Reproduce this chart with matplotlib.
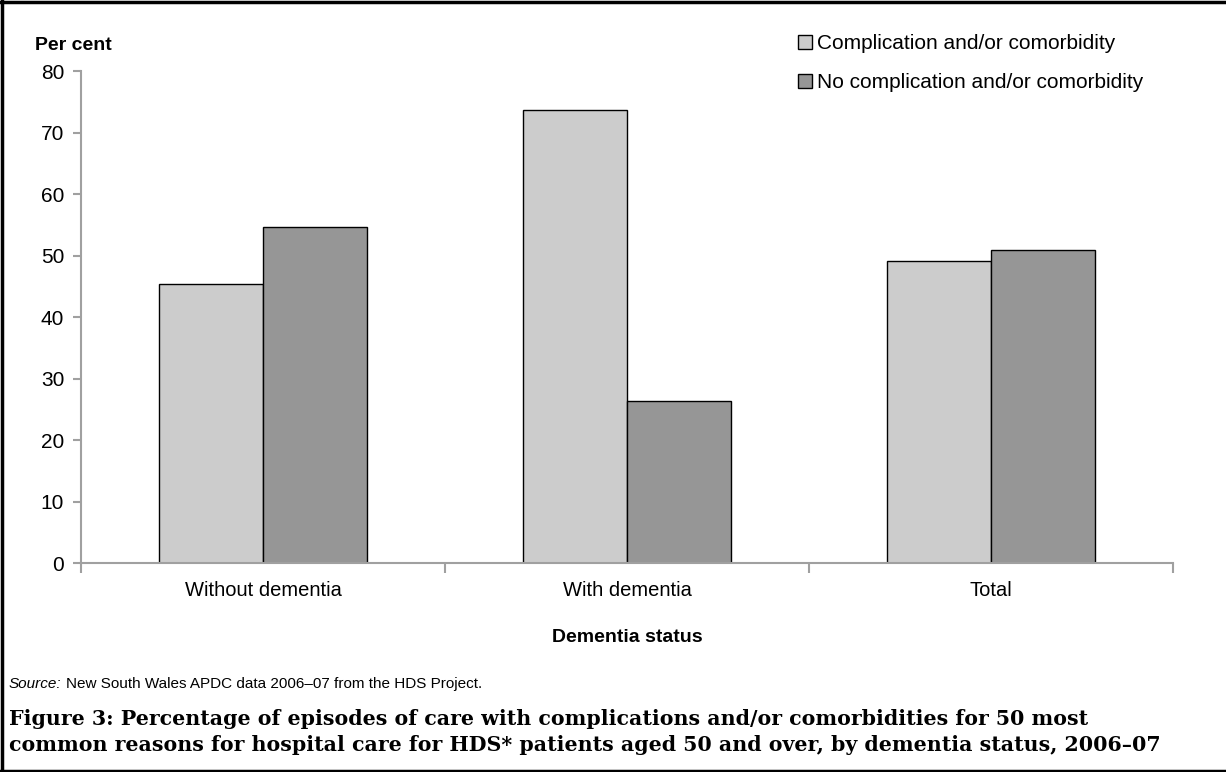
import matplotlib.pyplot as plt
import numpy as np
from matplotlib.lines import Line2D

categories = ["Without dementia", "With dementia", "Total"]
series_names = ["Complication and/or comorbidity", "No complication and/or comorbidity"]
with_cc = [45.3, 73.7, 49.1]
without_cc = [54.7, 26.3, 50.9]
yticks = [0, 10, 20, 30, 40, 50, 60, 70, 80]

plt.rcParams['font.family'] = ['Liberation Sans', 'DejaVu Sans']

fig = plt.figure(figsize=(12.26, 7.72), dpi=100)
ax = fig.add_axes([0.066, 0.2707, 0.891, 0.6373])

x = np.arange(len(categories))
w = 0.2857
ax.bar(x - w / 2, with_cc, w, color="#cccccc", edgecolor="black", linewidth=1, label=series_names[0])
ax.bar(x + w / 2, without_cc, w, color="#969696", edgecolor="black", linewidth=1, label=series_names[1])

ax.set_xlim(-0.5, 2.5)
ax.set_ylim(0, 80)
ax.set_yticks(yticks)
ax.tick_params(axis="y", labelsize=15, length=6, color="#a0a0a0", width=1.5, pad=6)
ax.set_xticks(x)
ax.set_xticklabels(categories)
ax.tick_params(axis="x", which="major", labelsize=14.5, length=0, pad=13)
ax.set_xticks(np.arange(-0.5, 2.6, 1), minor=True)
ax.tick_params(axis="x", which="minor", length=7, color="#a0a0a0", width=1.5)

for s in ["top", "right"]:
    ax.spines[s].set_visible(False)
for s in ["left", "bottom"]:
    ax.spines[s].set_color("#a0a0a0")
    ax.spines[s].set_linewidth(1.5)

ax.set_xlabel("Dementia status", fontsize=14, fontweight="bold", labelpad=21)
fig.text(35 / 1226, 1 - 46 / 772, "Per cent", fontsize=14, fontweight="bold", va="center", ha="left")

ax.legend(loc="upper left", bbox_to_anchor=(790 / 1226, 1 - 26 / 772), bbox_transform=fig.transFigure,
          frameon=False, fontsize=15, handlelength=0.65, handleheight=0.65, handletextpad=0.25,
          labelspacing=0.95, borderaxespad=0)

# source line: italic "Source:" then the rest
t = fig.text(9 / 1226, 1 - 684 / 772, "Source:", fontsize=11, style="italic", va="center", ha="left")
fig.canvas.draw()
bb = t.get_window_extent()
x0 = fig.transFigure.inverted().transform((bb.x1, bb.y0))[0]
fig.text(x0 + 4 / 1226, 1 - 684 / 772, "New South Wales APDC data 2006\u201307 from the HDS Project.",
         fontsize=11, va="center", ha="left")

fig.text(9 / 1226, 1 - 732 / 772,
         "Figure 3: Percentage of episodes of care with complications and/or comorbidities for 50 most\n"
         "common reasons for hospital care for HDS* patients aged 50 and over, by dementia status, 2006\u201307",
         fontsize=14.75, fontweight="bold", family="DejaVu Serif", va="center", ha="left", linespacing=1.38)

# border of the figure box: left, top, bottom
fig.add_artist(Line2D([2 / 1226, 2 / 1226], [0, 1], transform=fig.transFigure, color="black", lw=2.5))
fig.add_artist(Line2D([0, 1], [1 - 2 / 772, 1 - 2 / 772], transform=fig.transFigure, color="black", lw=2.5))
fig.add_artist(Line2D([0, 1], [1 / 772, 1 / 772], transform=fig.transFigure, color="black", lw=2.5))

fig.savefig("out.png", dpi=100)
